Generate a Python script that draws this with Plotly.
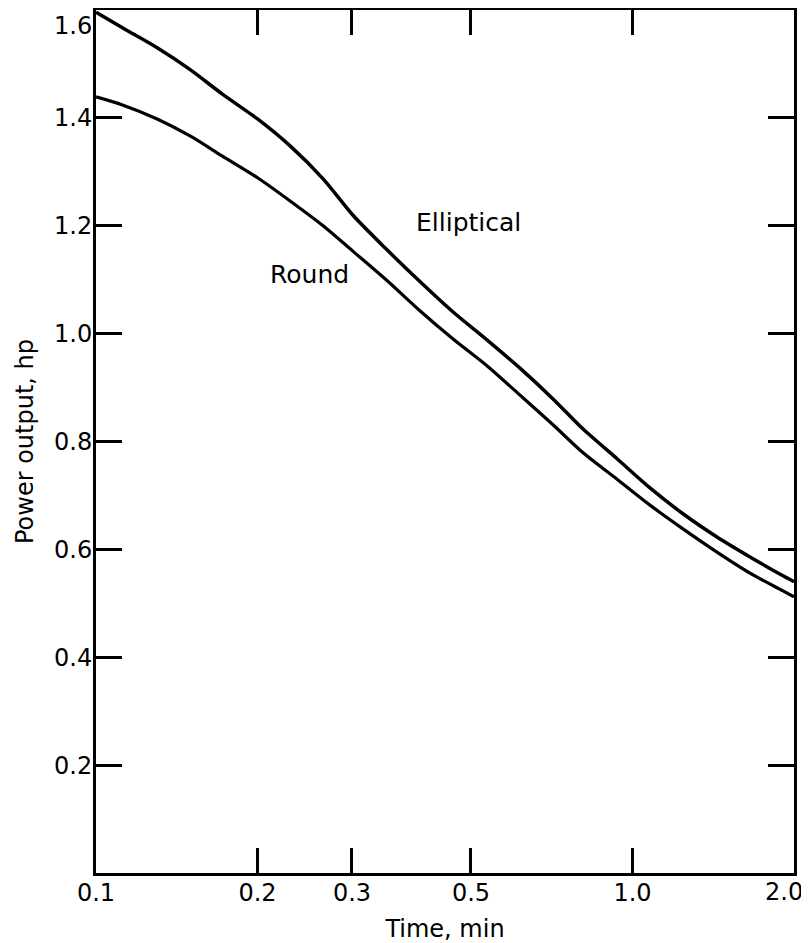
import math
import plotly.graph_objects as go

# Data (time in minutes, power output in hp)
time_elliptical = [0.100, 0.112, 0.130, 0.150, 0.172, 0.200, 0.230, 0.265, 0.301, 0.349,
                   0.402, 0.463, 0.536, 0.617, 0.711, 0.809, 0.936, 1.078, 1.242, 1.437,
                   1.656, 1.908, 2.000]
power_elliptical = [1.596, 1.567, 1.530, 1.489, 1.444, 1.398, 1.348, 1.287, 1.220, 1.155,
                    1.096, 1.040, 0.988, 0.936, 0.879, 0.823, 0.768, 0.714, 0.666, 0.623,
                    0.586, 0.551, 0.540]

time_round = [0.100, 0.112, 0.130, 0.150, 0.172, 0.200, 0.230, 0.265, 0.301, 0.349,
              0.402, 0.463, 0.536, 0.617, 0.711, 0.809, 0.936, 1.078, 1.242, 1.437,
              1.656, 1.908, 2.000]
power_round = [1.439, 1.424, 1.398, 1.366, 1.329, 1.289, 1.246, 1.200, 1.153, 1.098,
               1.042, 0.990, 0.940, 0.886, 0.831, 0.779, 0.730, 0.682, 0.638, 0.595,
               0.556, 0.523, 0.512]

x_tick_vals = [0.1, 0.2, 0.3, 0.5, 1.0, 2.0]
x_tick_text = ["0.1", "0.2", "0.3", "0.5", "1.0", ""]
x_last_label = "2.0"
y_tick_vals = [0.2, 0.4, 0.6, 0.8, 1.0, 1.2, 1.4, 1.6]
y_tick_text = ["0.2", "0.4", "0.6", "0.8", "1.0", "1.2", "1.4", "<br>1.6"]

FONT = "DejaVu Sans"

fig = go.Figure()
fig.add_trace(go.Scatter(x=time_elliptical, y=power_elliptical, mode="lines",
                         line=dict(color="black", width=3.5, shape="spline", smoothing=0.8),
                         name="Elliptical", showlegend=False))
fig.add_trace(go.Scatter(x=time_round, y=power_round, mode="lines",
                         line=dict(color="black", width=3.2, shape="spline", smoothing=0.8),
                         name="Round", showlegend=False))

fig.add_annotation(x=math.log10(0.4946), y=1.206, text="Elliptical", showarrow=False,
                   font=dict(family=FONT, size=25, color="black"), xanchor="center")
fig.add_annotation(x=math.log10(0.2495), y=1.110, text="Round", showarrow=False,
                   font=dict(family=FONT, size=25, color="black"), xanchor="center")
# last x tick label, nudged left so it stays inside the page like in the reference
fig.add_annotation(x=math.log10(x_tick_vals[-1]), xref="x", y=0, yref="paper",
                   text=x_last_label, showarrow=False, xanchor="center", yanchor="middle",
                   xshift=-10, yshift=-19,
                   font=dict(family=FONT, size=24, color="black"))

# The page body adds an 8px offset, so the figure is sized to fit the 809x943 window.
fig.update_layout(
    width=801, height=935,
    margin=dict(l=88, r=15, t=2, b=70),
    paper_bgcolor="white", plot_bgcolor="white",
    font=dict(family=FONT, size=24, color="black"),
)
fig.update_xaxes(
    type="log", range=[-1.0001, math.log10(2.0) + 0.0001],
    tickvals=x_tick_vals, ticktext=x_tick_text,
    ticks="inside", ticklen=25, tickwidth=2.5, tickcolor="black",
    showline=True, linewidth=3, linecolor="black", mirror="ticks",
    showgrid=False, zeroline=False, automargin=False,
    ticklabeloverflow="allow", ticklabelstandoff=-4,
    tickfont=dict(family=FONT, size=24),
    title=dict(text="Time, min", font=dict(family=FONT, size=24), standoff=16),
)
fig.update_yaxes(
    range=[0, 1.6],
    tickvals=y_tick_vals, ticktext=y_tick_text,
    ticks="inside", ticklen=26, tickwidth=2.5, tickcolor="black",
    showline=True, linewidth=3, linecolor="black", mirror="ticks",
    showgrid=False, zeroline=False, automargin=False,
    ticklabeloverflow="allow", ticklabelstandoff=-4,
    tickfont=dict(family=FONT, size=24),
    title=dict(text="Power output, hp", font=dict(family=FONT, size=24), standoff=14),
)

fig.write_html("out.html")
